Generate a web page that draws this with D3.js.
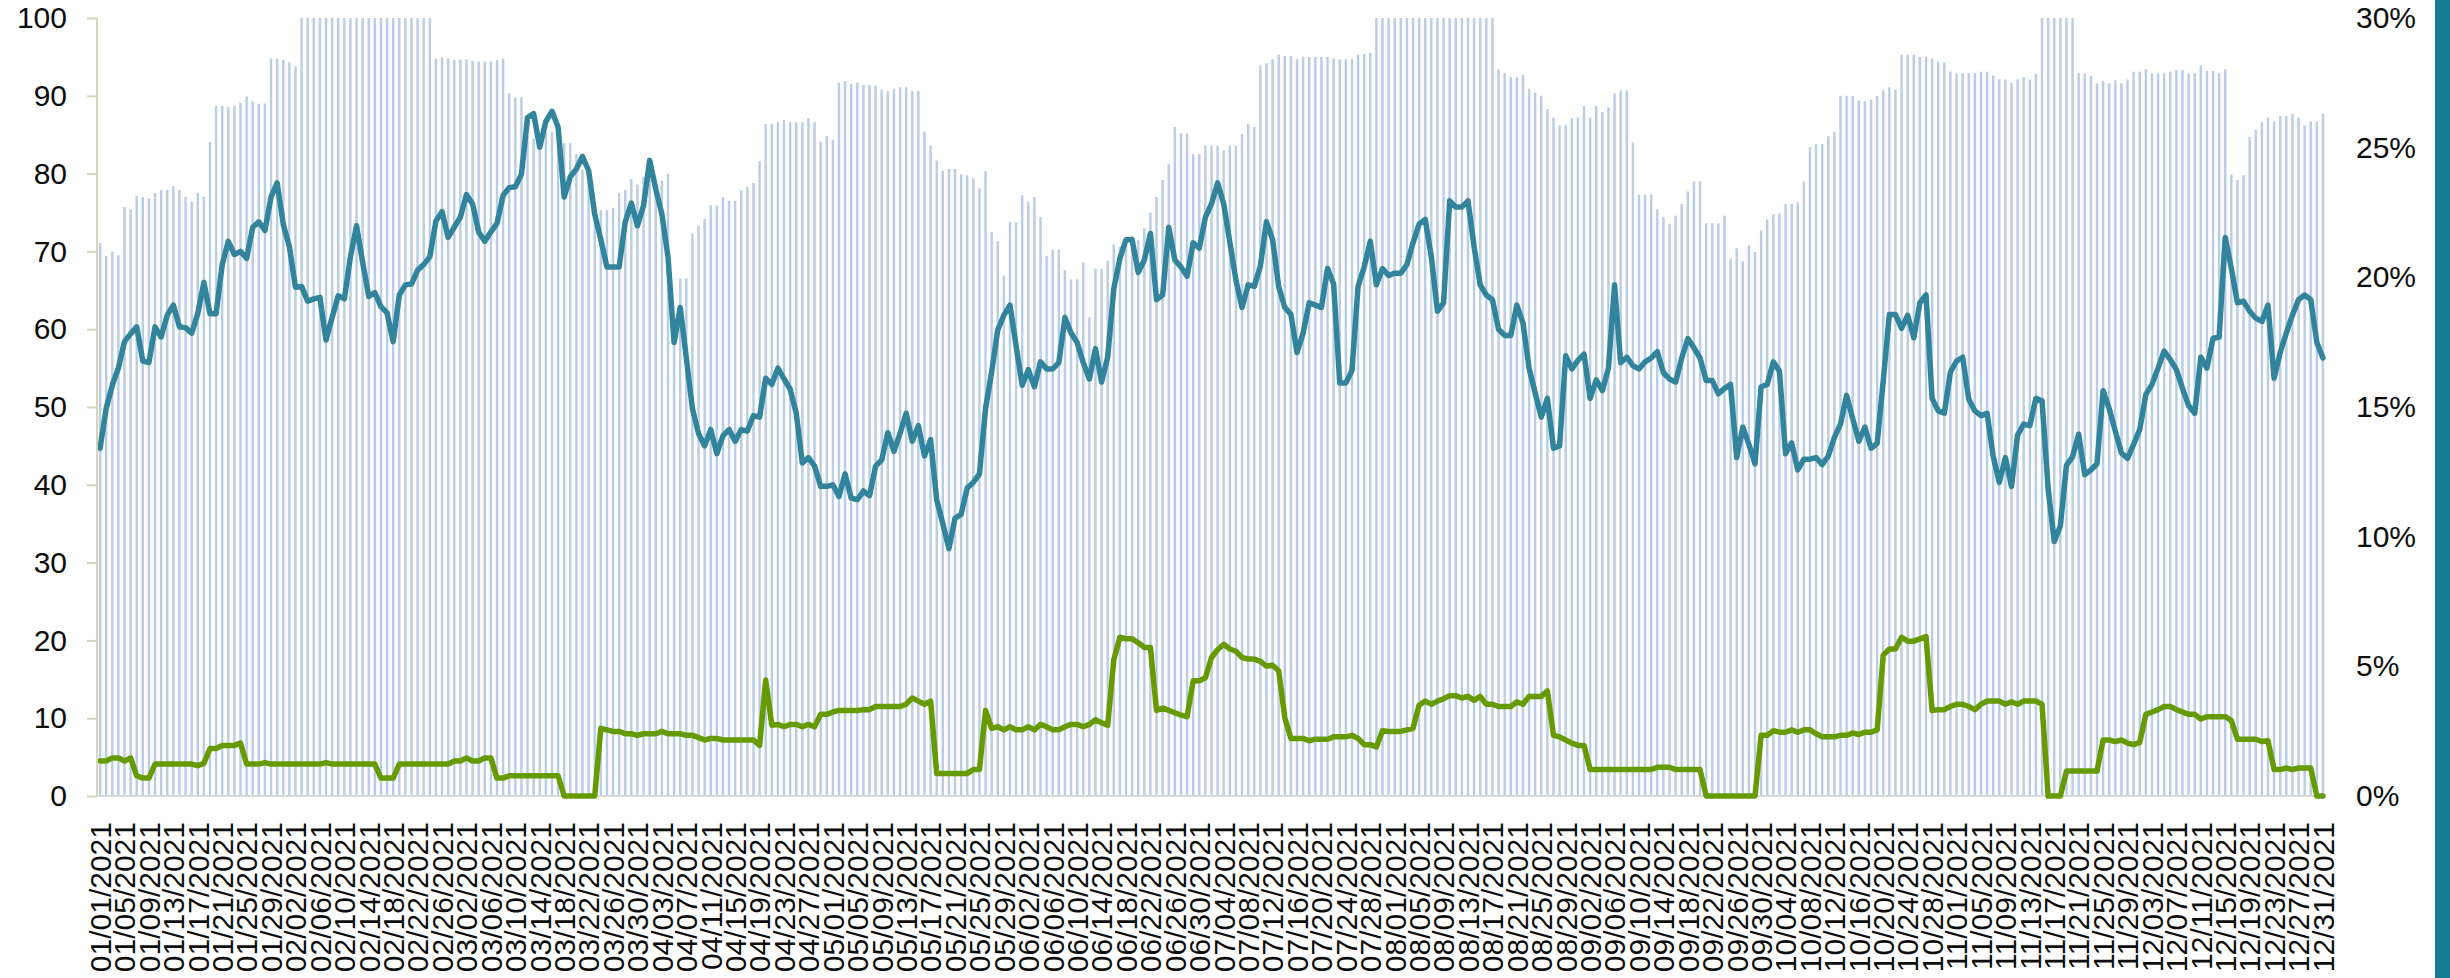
<!DOCTYPE html>
<html>
<head>
<meta charset="utf-8">
<script src="https://cdn.jsdelivr.net/npm/d3@7"></script>
<style>
  body { margin: 0; background: #fff; }
  .axis text { font-family: "Liberation Sans", Arial, sans-serif; font-size: 30px; fill: #0d0d0d; }
  .line { fill: none; stroke-linejoin: round; stroke-linecap: round; }
</style>
</head>
<body>
<div class="graph"></div>
<script>
// category dates: every day of 2021
var startDate = new Date(2021, 0, 1);
var endDate = new Date(2022, 0, 1);

// bar series (left axis, 0-100)
var barValues = [
  71.1, 69.4, 70.0, 69.5, 75.7, 75.4, 77.1, 77.0, 76.8, 77.5,
  77.9, 77.9, 78.4, 77.9, 77.0, 76.4, 77.5, 77.0, 84.1, 88.7,
  88.7, 88.6, 88.7, 89.1, 89.9, 89.3, 89.0, 89.0, 94.8, 94.8,
  94.6, 94.3, 93.8, 100, 100, 100, 100, 100, 100, 100,
  100, 100, 100, 100, 100, 100, 100, 100, 100, 100,
  100, 100, 100, 100, 100, 94.8, 94.9, 94.8, 94.6, 94.7,
  94.7, 94.5, 94.4, 94.4, 94.4, 94.6, 94.8, 90.3, 89.8, 89.8,
  84.8, 84.5, 84.0, 85.4, 85.4, 83.5, 83.9, 83.9, 82.5, 80.5,
  80.0, 76.0, 75.3, 75.3, 75.6, 77.5, 77.9, 79.3, 78.6, 79.6,
  80.5, 78.4, 79.1, 80.0, 59.7, 66.5, 66.5, 72.3, 73.3, 74.2,
  75.9, 75.9, 77.0, 76.5, 76.5, 77.9, 78.3, 78.8, 81.6, 86.4,
  86.4, 86.6, 86.9, 86.6, 86.6, 86.6, 87.1, 86.6, 84.1, 84.8,
  84.3, 91.7, 91.9, 91.5, 91.7, 91.4, 91.4, 91.3, 90.8, 90.6,
  90.9, 91.1, 91.1, 90.6, 90.6, 85.4, 83.6, 81.7, 80.4, 80.6,
  80.6, 79.9, 79.8, 79.4, 78.1, 80.3, 72.5, 71.3, 66.9, 73.8,
  73.7, 77.2, 76.4, 77.0, 74.4, 69.4, 70.2, 70.2, 67.6, 66.4,
  66.4, 68.6, 61.5, 67.8, 67.8, 68.8, 70.9, 70.6, 71.0, 72.0,
  71.5, 73.0, 75.0, 77.0, 79.2, 81.2, 86.0, 85.2, 85.2, 82.5,
  82.5, 83.6, 83.6, 83.6, 83.0, 83.6, 83.6, 85.1, 86.4, 86.0,
  93.9, 94.2, 94.7, 95.3, 95.1, 95.1, 94.7, 95.0, 95.0, 95.0,
  95.0, 95.0, 94.8, 94.7, 94.7, 94.7, 95.3, 95.4, 95.5, 100,
  100, 100, 100, 100, 100, 100, 100, 100, 100, 100,
  100, 100, 100, 100, 100, 100, 100, 100, 100, 93.4,
  92.9, 92.4, 92.4, 92.7, 90.9, 90.4, 90.0, 88.3, 87.2, 86.2,
  86.2, 87.1, 87.2, 88.7, 87.2, 88.7, 87.9, 88.5, 90.3, 90.7,
  90.7, 84.0, 77.3, 77.3, 77.3, 75.4, 74.4, 73.5, 74.6, 76.1,
  77.7, 79.0, 79.0, 73.6, 73.6, 73.6, 74.6, 69.1, 70.4, 68.7,
  70.8, 69.9, 72.7, 74.1, 74.8, 74.9, 76.1, 76.1, 76.3, 79.0,
  83.4, 83.8, 83.8, 84.8, 85.4, 90.0, 90.0, 90.0, 89.4, 89.3,
  89.5, 90.0, 90.7, 91.1, 90.8, 95.3, 95.3, 95.3, 95.0, 95.0,
  94.8, 94.4, 94.3, 93.1, 92.9, 92.9, 92.9, 92.9, 93.1, 93.1,
  92.6, 92.1, 92.1, 91.7, 92.1, 92.4, 92.1, 92.8, 100, 100,
  100, 100, 100, 100, 92.9, 92.9, 92.6, 91.6, 91.9, 91.6,
  92.0, 91.6, 92.1, 93.1, 93.1, 93.4, 92.9, 92.9, 92.9, 93.1,
  93.3, 93.3, 92.9, 92.9, 93.9, 93.2, 93.2, 92.9, 93.4, 79.9,
  79.2, 79.8, 84.7, 85.6, 86.6, 87.2, 86.7, 87.4, 87.4, 87.7,
  87.2, 86.2, 86.7, 86.7, 87.7
];

// teal line (left axis)
var tealValues = [
  44.7, 49.8, 52.8, 55.0, 58.4, 59.4, 60.3, 55.9, 55.7, 60.3,
  59.0, 61.8, 63.1, 60.3, 60.2, 59.5, 62.0, 66.0, 62.0, 62.0,
  68.3, 71.3, 69.6, 70.0, 69.1, 73.1, 73.8, 72.7, 77.0, 78.8,
  73.5, 70.6, 65.4, 65.5, 63.6, 63.9, 64.1, 58.6, 61.5, 64.3,
  63.9, 69.3, 73.3, 68.6, 64.2, 64.7, 62.9, 62.1, 58.4, 64.4,
  65.7, 65.8, 67.6, 68.3, 69.3, 73.9, 75.1, 71.8, 73.1, 74.4,
  77.3, 76.1, 72.5, 71.3, 72.5, 73.6, 77.2, 78.2, 78.3, 79.9,
  87.2, 87.7, 83.4, 86.7, 88.0, 86.0, 77.0, 79.6, 80.6, 82.2,
  80.4, 74.8, 71.5, 68.0, 68.0, 68.0, 73.8, 76.2, 73.3, 75.9,
  81.7, 78.0, 74.8, 69.3, 58.3, 62.8, 56.3, 49.8, 46.6, 45.0,
  47.1, 44.0, 46.3, 47.1, 45.6, 47.1, 46.9, 48.9, 48.7, 53.7,
  52.9, 55.0, 53.6, 52.3, 49.2, 42.8, 43.5, 42.4, 39.8, 39.8,
  40.0, 38.5, 41.4, 38.3, 38.1, 39.2, 38.6, 42.4, 43.2, 46.7,
  44.3, 46.6, 49.2, 45.6, 47.6, 43.7, 45.8, 38.1, 35.0, 31.8,
  35.7, 36.2, 39.6, 40.3, 41.4, 49.8, 54.5, 59.9, 61.8, 63.1,
  57.9, 52.8, 54.8, 52.6, 55.8, 54.9, 54.9, 55.7, 61.5, 59.5,
  58.3, 55.7, 53.6, 57.5, 53.2, 56.4, 65.2, 69.1, 71.5, 71.5,
  67.3, 68.9, 72.3, 63.8, 64.4, 73.1, 68.9, 68.0, 66.8, 71.1,
  70.4, 74.4, 76.1, 78.8, 76.1, 71.2, 66.3, 62.8, 65.7, 65.5,
  68.1, 73.8, 71.5, 65.5, 62.8, 61.9, 57.0, 59.5, 63.4, 63.1,
  62.8, 67.8, 65.8, 53.1, 53.1, 54.7, 65.5, 68.0, 71.3, 65.7,
  67.8, 66.9, 67.2, 67.2, 68.3, 71.1, 73.5, 74.1, 69.3, 62.3,
  63.4, 76.5, 75.7, 75.7, 76.5, 70.6, 65.7, 64.4, 63.8, 60.0,
  59.2, 59.2, 63.1, 60.8, 55.0, 51.8, 48.7, 51.1, 44.7, 45.0,
  56.6, 54.9, 56.0, 56.8, 51.1, 53.5, 52.1, 55.0, 65.7, 55.7,
  56.4, 55.3, 54.9, 55.8, 56.3, 57.1, 54.4, 53.6, 53.2, 56.3,
  58.8, 57.6, 56.3, 53.4, 53.4, 51.7, 52.4, 52.9, 43.5, 47.4,
  45.2, 42.7, 52.6, 52.9, 55.8, 54.6, 44.0, 45.4, 41.9, 43.3,
  43.3, 43.5, 42.6, 43.7, 46.1, 47.8, 51.5, 48.5, 45.6, 47.4,
  44.7, 45.3, 53.4, 61.9, 61.9, 60.1, 61.8, 58.9, 63.4, 64.4,
  51.1, 49.5, 49.2, 54.5, 55.9, 56.4, 51.0, 49.5, 48.9, 49.2,
  43.7, 40.3, 43.5, 39.8, 46.4, 47.8, 47.6, 51.1, 50.8, 39.5,
  32.7, 34.7, 42.5, 43.6, 46.5, 41.3, 41.9, 42.7, 52.1, 49.8,
  46.9, 44.1, 43.4, 45.2, 47.1, 51.6, 52.9, 55.0, 57.2, 56.1,
  54.8, 52.4, 50.2, 49.2, 56.4, 55.0, 58.8, 59.0, 71.8, 67.8,
  63.4, 63.6, 62.3, 61.4, 61.0, 63.1, 53.7, 57.0, 59.5, 61.8,
  63.8, 64.4, 63.8, 58.3, 56.3
];

// green line (right axis, percent)
var greenValues = [
  1.35, 1.35, 1.47, 1.47, 1.35, 1.47, 0.78, 0.69, 0.69, 1.23,
  1.23, 1.23, 1.23, 1.23, 1.23, 1.23, 1.17, 1.26, 1.83, 1.83,
  1.95, 1.95, 1.95, 2.04, 1.23, 1.23, 1.23, 1.29, 1.23, 1.23,
  1.23, 1.23, 1.23, 1.23, 1.23, 1.23, 1.23, 1.29, 1.23, 1.23,
  1.23, 1.23, 1.23, 1.23, 1.23, 1.23, 0.69, 0.69, 0.69, 1.23,
  1.23, 1.23, 1.23, 1.23, 1.23, 1.23, 1.23, 1.23, 1.35, 1.35,
  1.47, 1.35, 1.35, 1.47, 1.47, 0.69, 0.69, 0.78, 0.78, 0.78,
  0.78, 0.78, 0.78, 0.78, 0.78, 0.78, 0, 0, 0, 0,
  0, 0, 2.61, 2.55, 2.49, 2.49, 2.40, 2.40, 2.34, 2.40,
  2.40, 2.40, 2.49, 2.40, 2.40, 2.40, 2.34, 2.34, 2.25, 2.16,
  2.22, 2.22, 2.16, 2.16, 2.16, 2.16, 2.16, 2.16, 1.95, 4.47,
  2.73, 2.76, 2.67, 2.76, 2.76, 2.67, 2.76, 2.67, 3.15, 3.15,
  3.24, 3.30, 3.30, 3.30, 3.30, 3.33, 3.33, 3.45, 3.45, 3.45,
  3.45, 3.45, 3.54, 3.78, 3.66, 3.54, 3.66, 0.87, 0.87, 0.87,
  0.87, 0.87, 0.87, 1.02, 1.02, 3.30, 2.61, 2.67, 2.55, 2.67,
  2.55, 2.55, 2.67, 2.55, 2.76, 2.67, 2.55, 2.55, 2.67, 2.76,
  2.76, 2.67, 2.76, 2.94, 2.82, 2.73, 5.25, 6.12, 6.06, 6.06,
  5.91, 5.73, 5.73, 3.30, 3.39, 3.30, 3.21, 3.12, 3.06, 4.44,
  4.44, 4.56, 5.34, 5.64, 5.85, 5.67, 5.58, 5.34, 5.28, 5.28,
  5.19, 5.01, 5.04, 4.83, 3.03, 2.22, 2.22, 2.22, 2.13, 2.19,
  2.19, 2.19, 2.28, 2.28, 2.28, 2.34, 2.22, 1.98, 1.98, 1.89,
  2.52, 2.49, 2.49, 2.49, 2.55, 2.61, 3.51, 3.66, 3.54, 3.66,
  3.75, 3.87, 3.87, 3.78, 3.84, 3.69, 3.84, 3.54, 3.54, 3.45,
  3.45, 3.45, 3.63, 3.54, 3.84, 3.84, 3.84, 4.05, 2.34, 2.28,
  2.16, 2.04, 1.95, 1.95, 1.02, 1.02, 1.02, 1.02, 1.02, 1.02,
  1.02, 1.02, 1.02, 1.02, 1.02, 1.11, 1.11, 1.11, 1.02, 1.02,
  1.02, 1.02, 1.02, 0, 0, 0, 0, 0, 0, 0,
  0, 0, 2.34, 2.34, 2.52, 2.46, 2.46, 2.55, 2.46, 2.55,
  2.55, 2.40, 2.28, 2.28, 2.28, 2.34, 2.34, 2.43, 2.37, 2.46,
  2.46, 2.55, 5.43, 5.67, 5.67, 6.12, 5.97, 5.97, 6.06, 6.15,
  3.30, 3.33, 3.33, 3.45, 3.54, 3.54, 3.45, 3.33, 3.54, 3.66,
  3.66, 3.66, 3.54, 3.63, 3.54, 3.66, 3.66, 3.66, 3.54, 0,
  0, 0, 0.96, 0.96, 0.96, 0.96, 0.96, 0.96, 2.16, 2.16,
  2.10, 2.16, 2.04, 1.98, 2.07, 3.15, 3.24, 3.33, 3.45, 3.45,
  3.33, 3.24, 3.15, 3.15, 2.97, 3.06, 3.06, 3.06, 3.06, 2.91,
  2.19, 2.19, 2.19, 2.19, 2.10, 2.13, 1.02, 1.02, 1.08, 1.02,
  1.08, 1.08, 1.08, 0, 0
];

// axis ticks
var leftTicks = [0, 10, 20, 30, 40, 50, 60, 70, 80, 90, 100];
var rightTicks = [0, 5, 10, 15, 20, 25, 30];
var labelEvery = 4;

var dates = d3.timeDay.range(startDate, endDate);
var fmt = d3.timeFormat("%m/%d/%Y");
var tickDates = dates.filter(function(d, i) { return i % labelEvery === 0; });

// set the dimensions and margins of the graph
var W = 2450, H = 978;
var margin = {top: 18, right: 124, bottom: 182, left: 97},
    width = W - margin.left - margin.right,
    height = H - margin.top - margin.bottom;

var svg = d3.select(".graph").append("svg")
    .attr("width", W)
    .attr("height", H);

// teal stripe on the right edge
svg.append("rect")
    .attr("x", 2435).attr("y", 0)
    .attr("width", 15).attr("height", H)
    .attr("fill", "#157b97");

var g = svg.append("g")
    .attr("transform", "translate(" + margin.left + "," + margin.top + ")");

// set the ranges
var x = d3.scaleBand().domain(dates).range([0, width]).paddingInner(0.6).paddingOuter(0.3);
var y = d3.scaleLinear().domain([0, 100]).range([height, 0]);
var y2 = d3.scaleLinear().domain([0, 30]).range([height, 0]);

function cx(d) { return x(d) + x.bandwidth() / 2; }

// bars
g.selectAll("rect.bar")
    .data(dates)
  .enter().append("rect")
    .attr("class", "bar")
    .attr("x", function(d) { return x(d); })
    .attr("width", x.bandwidth())
    .attr("y", function(d, i) { return y(barValues[i]); })
    .attr("height", function(d, i) { return height - y(barValues[i]); })
    .attr("fill", "#b9cde5");

// bottom axis line
g.append("line")
    .attr("x1", 0).attr("x2", width)
    .attr("y1", height).attr("y2", height)
    .attr("stroke", "#d9d9d9").attr("stroke-width", 2);

// the lines
var tealLine = d3.line()
    .x(function(d, i) { return cx(dates[i]); })
    .y(function(d) { return y(d); });

var greenLine = d3.line()
    .x(function(d, i) { return cx(dates[i]); })
    .y(function(d) { return y2(d); });

g.append("path")
    .datum(tealValues)
    .attr("class", "line")
    .attr("stroke", "#31849b")
    .attr("stroke-width", 5.5)
    .attr("d", tealLine);

g.append("path")
    .datum(greenValues)
    .attr("class", "line")
    .attr("stroke", "#669a00")
    .attr("stroke-width", 5.5)
    .attr("d", greenLine);

// Add the left Y Axis
var yAxis = g.append("g")
    .attr("class", "axis")
    .call(d3.axisLeft(y).tickValues(leftTicks).tickSize(10).tickPadding(20));
yAxis.selectAll("line, path").attr("stroke", "#d8d3bb").attr("stroke-width", 2);
yAxis.select(".domain").attr("d", "M0," + height + "V0");

// Add the right Y Axis
var y2Axis = g.append("g")
    .attr("class", "axis")
    .attr("transform", "translate(" + width + ",0)")
    .call(d3.axisRight(y2).tickValues(rightTicks).tickSize(0).tickPadding(30)
      .tickFormat(function(d) { return d + "%"; }));
y2Axis.select(".domain").remove();

// Add the X Axis (rotated date labels)
var xAxis = g.append("g")
    .attr("class", "axis")
    .attr("transform", "translate(0," + height + ")")
    .call(d3.axisBottom(x).tickValues(tickDates).tickSize(0).tickFormat(fmt));
xAxis.select(".domain").remove();
xAxis.selectAll("text")
    .attr("transform", "rotate(-90)")
    .attr("text-anchor", "end")
    .attr("x", -26)
    .attr("y", 0)
    .attr("dy", "0.36em");
</script>
</body>
</html>
